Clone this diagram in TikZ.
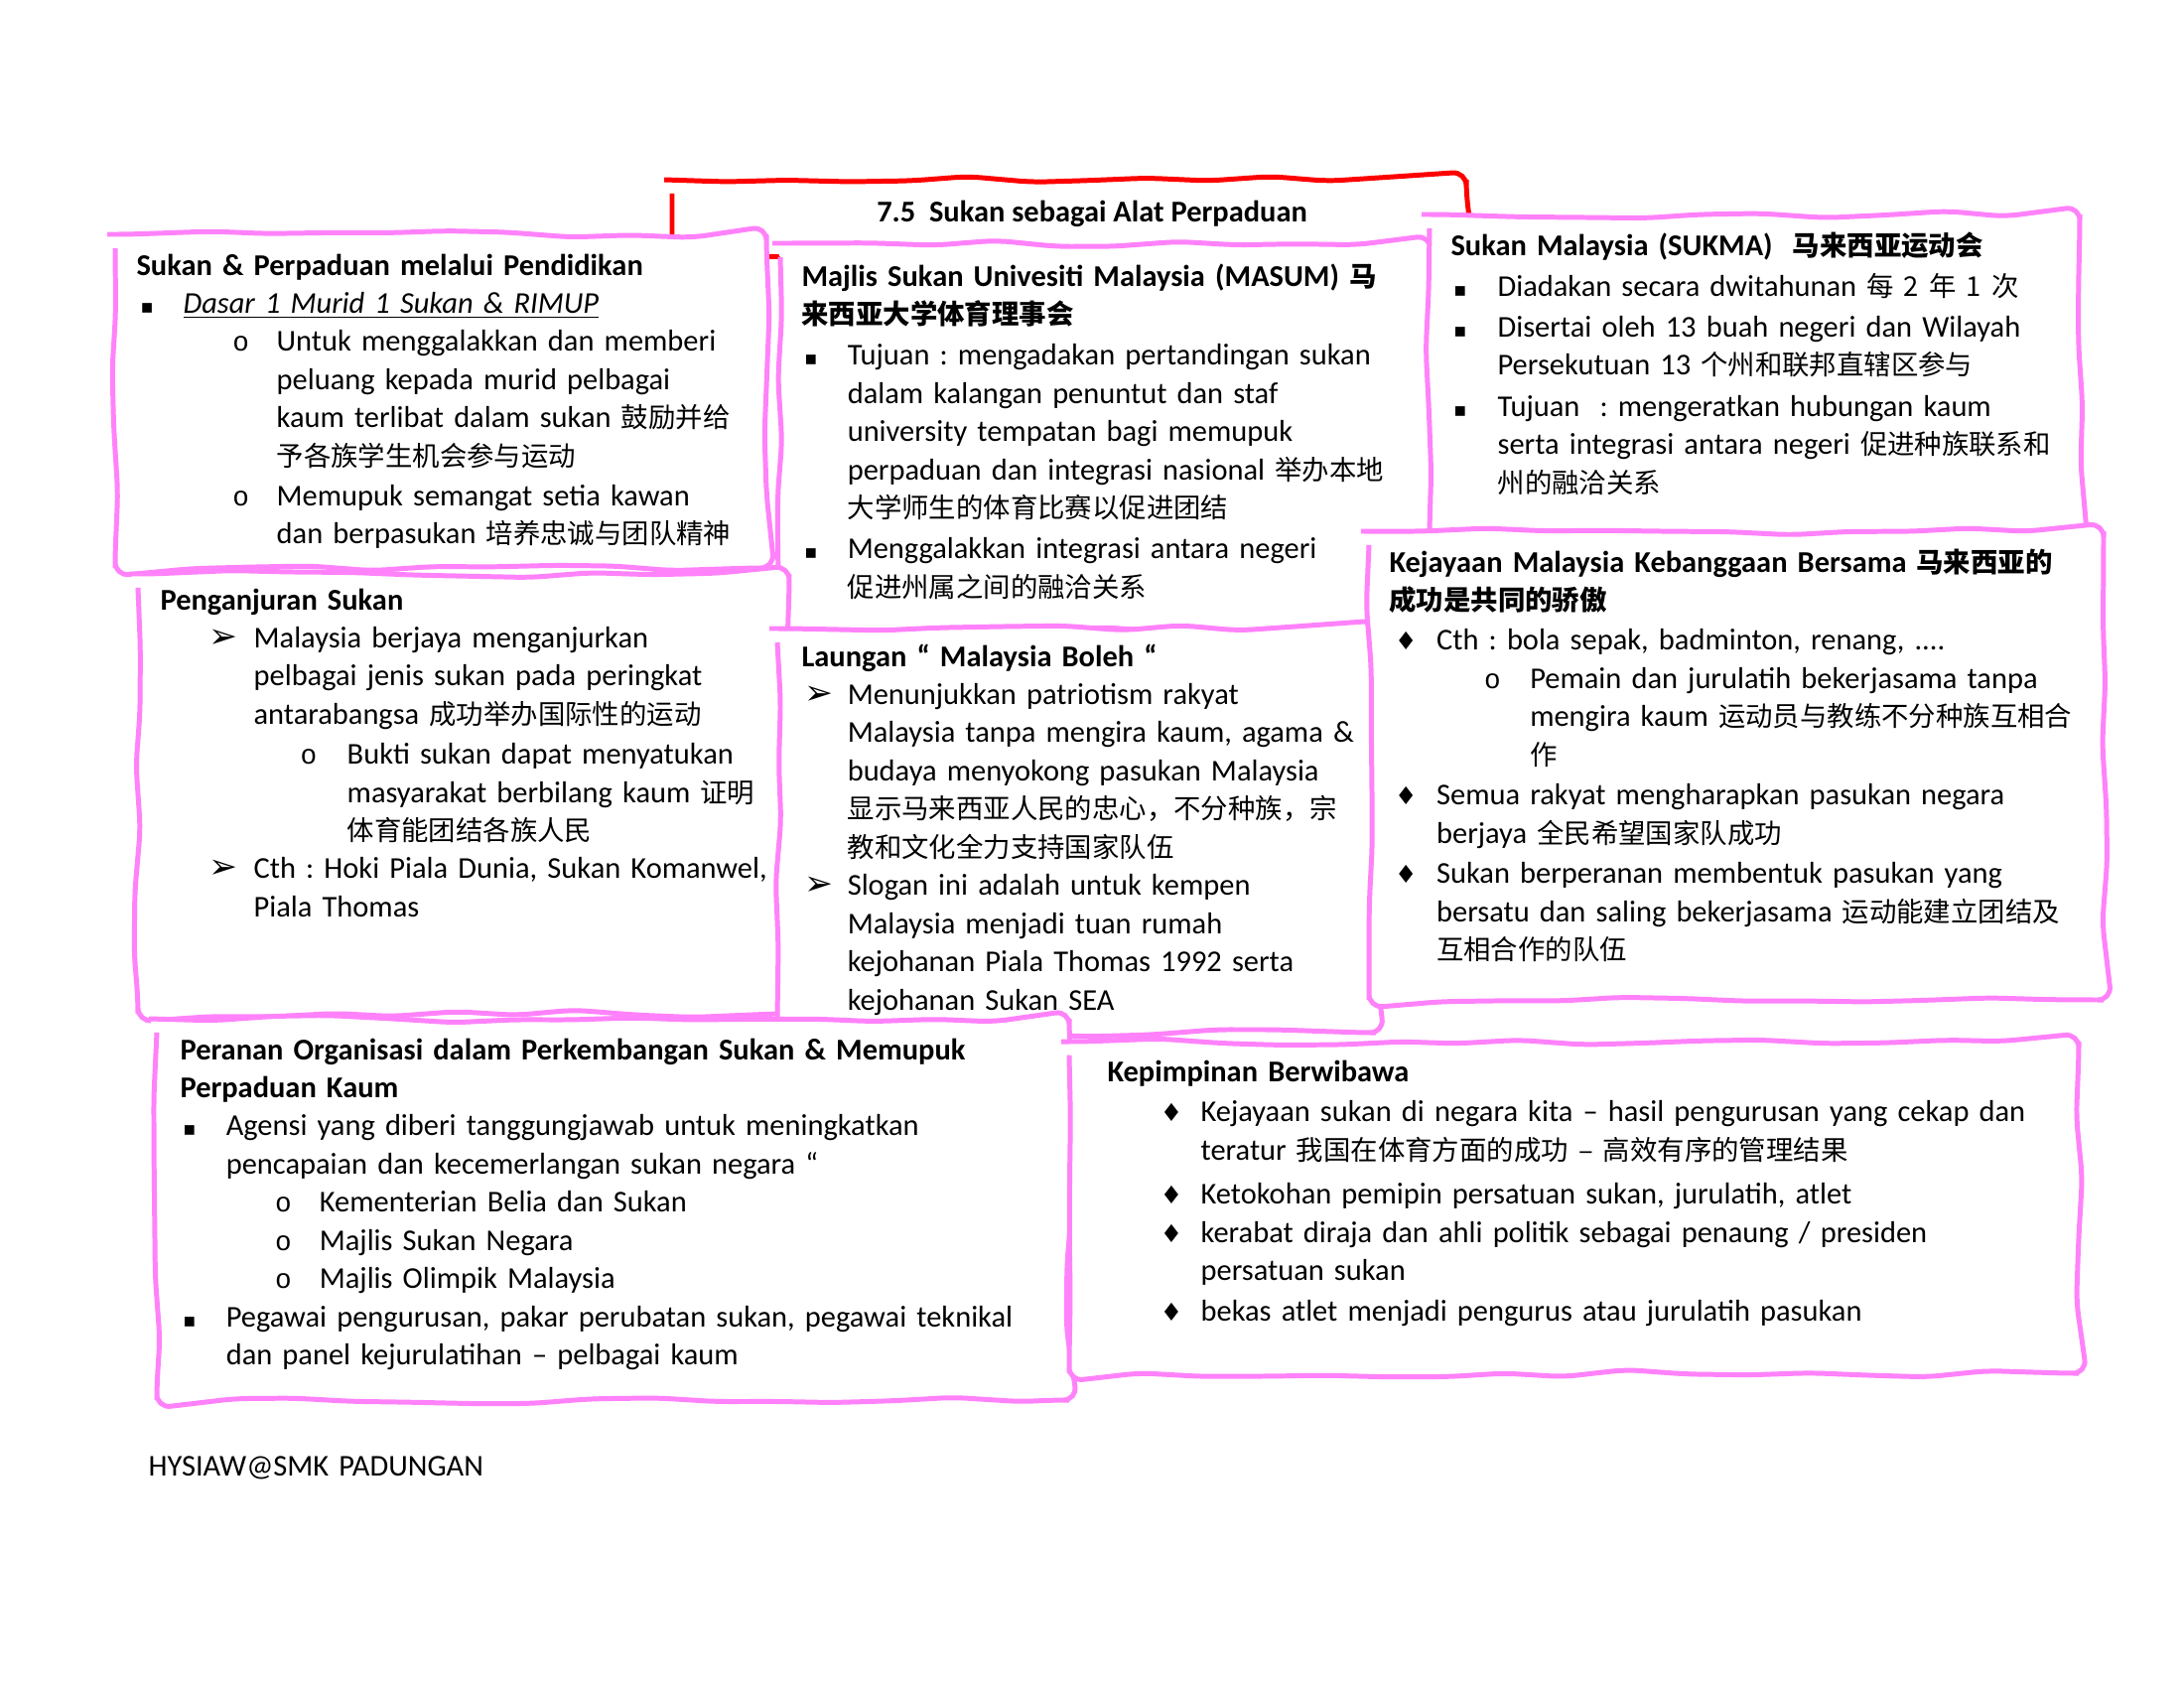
\documentclass[tikz,border=0pt]{standalone}
\usepackage{fontspec}
\setmainfont{Carlito}
\newfontfamily\cjk{Noto Sans CJK SC}[Scale=0.9]
\newfontfamily\symfont{DejaVu Sans}
\newfontfamily\circfont{Liberation Mono}
\usetikzlibrary{decorations.pathmorphing}
\frenchspacing

\definecolor{boxpink}{RGB}{255,130,250}
\definecolor{titlered}{RGB}{255,0,0}

% list lines: [gap], bullet offset, text offset, bullet
\newcommand\li[4][0pt]{\par\vspace{#1}\hangindent=#3\hangafter=1\noindent\makebox[#3][l]{\hspace*{#2}#4}\ignorespaces}
\newcommand\cn[1]{{\cjk #1}}
\newcommand\bsq{{\symfont\fontsize{7pt}{7pt}\selectfont ▪}}
\newcommand\bci{{\circfont\fontsize{10pt}{10pt}\selectfont o}}
\newcommand\barr{{\symfont\fontsize{12.5pt}{12.5pt}\selectfont ➢}}
\newcommand\bdia{{\symfont\fontsize{9pt}{9pt}\selectfont ♦}}

\tikzset{
  pinkbox/.style={draw=boxpink, line width=1.8pt, fill=white, decorate,
    decoration={random steps, segment length=22pt, amplitude=1.4pt}, rounded corners=5pt},
  redbox/.style={pinkbox, draw=titlered},
  boxtext/.style={anchor=base west, inner sep=0pt, text width=190mm, align=left,
    font=\fontsize{11pt}{13.9pt}\selectfont}
}

\begin{document}
\begin{tikzpicture}[x=0.127mm, y=-0.127mm]
\useasboundingbox (0,0) rectangle (2200,1700);
\pgfmathsetseed{11}

% title
\draw[redbox] (677,181) rectangle (1477,258);
\node[font=\fontsize{11pt}{13.9pt}\selectfont\bfseries, inner sep=0pt] (title) at (1100,215) {7.5\ \ Sukan sebagai Alat Perpaduan};

% boxes
\draw[pinkbox] (116,236) rectangle (772,572);
\node[boxtext] (pendidikan) at (137,277) {%
\textbf{Sukan \& Perpaduan melalui Pendidikan}
\li{1.5pt}{17pt}{\bsq}\underline{\textit{Dasar 1 Murid 1 Sukan \& RIMUP}}
\li{35pt}{51pt}{\bci}Untuk menggalakkan dan memberi\newline peluang kepada murid pelbagai\newline kaum terlibat dalam sukan \cn{鼓励并给}\newline \cn{予各族学生机会参与运动}
\li[0.6pt]{35pt}{51pt}{\bci}Memupuk semangat setia kawan\newline dan berpasukan \cn{培养忠诚与团队精神}\par};

\draw[pinkbox] (786,245) rectangle (1441,635);
\node[boxtext] (masum) at (807,288) {%
\textbf{Majlis Sukan Univesiti Malaysia (MASUM) \cn{马}\newline \cn{来西亚大学体育理事会}}
\li[1pt]{1pt}{16.7pt}{\bsq}Tujuan : mengadakan pertandingan sukan\newline dalam kalangan penuntut dan staf\newline university tempatan bagi memupuk\newline perpaduan dan integrasi nasional \cn{举办本地}\newline \cn{大学师生的体育比赛以促进团结}
\li[1pt]{1pt}{16.7pt}{\bsq}Menggalakkan integrasi antara negeri\newline \cn{促进州属之间的融洽关系}\par};

\draw[pinkbox] (1440,216) rectangle (2095,545);
\node[boxtext] (sukma) at (1461,257) {%
\textbf{Sukan Malaysia (SUKMA)\ \ \cn{马来西亚运动会}}
\li[1pt]{1pt}{17pt}{\bsq}Diadakan secara dwitahunan \cn{每 2 年 1 次}
\li[1pt]{1pt}{17pt}{\bsq}Disertai oleh 13 buah negeri dan Wilayah\newline Persekutuan 13 \cn{个州和联邦直辖区参与}
\li[1pt]{1pt}{17pt}{\bsq}Tujuan\ \ : mengeratkan hubungan kaum\newline serta integrasi antara negeri \cn{促进种族联系和}\newline \cn{州的融洽关系}\par};

\draw[pinkbox] (139,578) rectangle (795,1021);
\node[boxtext] (anjur) at (161,614) {%
\textbf{Penganjuran Sukan}
\li{17.7pt}{34pt}{\barr}Malaysia berjaya menganjurkan\newline pelbagai jenis sukan pada peringkat\newline antarabangsa \cn{成功举办国际性的运动}
\li[0.6pt]{51pt}{68pt}{\bci}Bukti sukan dapat menyatukan\newline masyarakat berbilang kaum \cn{证明}\newline \cn{体育能团结各族人民}
\li{17.7pt}{34pt}{\barr}Cth : Hoki Piala Dunia, Sukan Komanwel,\newline Piala Thomas\par};

\draw[pinkbox] (783,633) rectangle (1386,1040);
\node[boxtext] (laungan) at (807,671) {%
\textbf{Laungan “ Malaysia Boleh “}
\li{1pt}{16.7pt}{\barr}Menunjukkan patriotism rakyat\newline Malaysia tanpa mengira kaum, agama \&\newline budaya menyokong pasukan Malaysia\newline \cn{显示马来西亚人民的忠心，不分种族，宗}\newline \cn{教和文化全力支持国家队伍}
\li{1pt}{16.7pt}{\barr}Slogan ini adalah untuk kempen\newline Malaysia menjadi tuan rumah\newline kejohanan Piala Thomas 1992 serta\newline kejohanan Sukan SEA\par};

\draw[pinkbox] (1379,535) rectangle (2119,1007);
\node[boxtext] (kejayaan) at (1399,576) {%
\textbf{Kejayaan Malaysia Kebanggaan Bersama \cn{马来西亚的}\newline \cn{成功是共同的骄傲}}
\li[0.6pt]{2pt}{17.2pt}{\bdia}Cth : bola sepak, badminton, renang, ....
\li{34.5pt}{51.2pt}{\bci}Pemain dan jurulatih bekerjasama tanpa\newline mengira kaum \cn{运动员与教练不分种族互相合}\newline \cn{作}
\li[0.8pt]{2pt}{17.2pt}{\bdia}Semua rakyat mengharapkan pasukan negara\newline berjaya \cn{全民希望国家队成功}
\li[0.8pt]{2pt}{17.2pt}{\bdia}Sukan berperanan membentuk pasukan yang\newline bersatu dan saling bekerjasama \cn{运动能建立团结及}\newline \cn{互相合作的队伍}\par};

\draw[pinkbox] (158,1026) rectangle (1077,1410);
\node[boxtext] (peranan) at (181,1067) {%
\textbf{Peranan Organisasi dalam Perkembangan Sukan \& Memupuk\newline Perpaduan Kaum}
\li{1pt}{16.7pt}{\bsq}Agensi yang diberi tanggungjawab untuk meningkatkan\newline pencapaian dan kecemerlangan sukan negara “
\li{34.5pt}{50.7pt}{\bci}Kementerian Belia dan Sukan
\li{34.5pt}{50.7pt}{\bci}Majlis Sukan Negara
\li{34.5pt}{50.7pt}{\bci}Majlis Olimpik Malaysia
\li{1pt}{16.7pt}{\bsq}Pegawai pengurusan, pakar perubatan sukan, pegawai teknikal\newline dan panel kejurulatihan – pelbagai kaum\par};

\draw[pinkbox] (1077,1049) rectangle (2094,1383);
\node[boxtext] (pimpin) at (1115,1089) {%
\textbf{Kepimpinan Berwibawa}
\li[0.8pt]{19.3pt}{34pt}{\bdia}Kejayaan sukan di negara kita – hasil pengurusan yang cekap dan\newline teratur \cn{我国在体育方面的成功 – 高效有序的管理结果}
\li[2.3pt]{19.3pt}{34pt}{\bdia}Ketokohan pemipin persatuan sukan, jurulatih, atlet
\li{19.3pt}{34pt}{\bdia}kerabat diraja dan ahli politik sebagai penaung / presiden\newline persatuan sukan
\li[0.8pt]{19.3pt}{34pt}{\bdia}bekas atlet menjadi pengurus atau jurulatih pasukan\par};

% footer
\node[boxtext] (footer) at (149,1486) {HYSIAW@SMK PADUNGAN};

\end{tikzpicture}
\end{document}
